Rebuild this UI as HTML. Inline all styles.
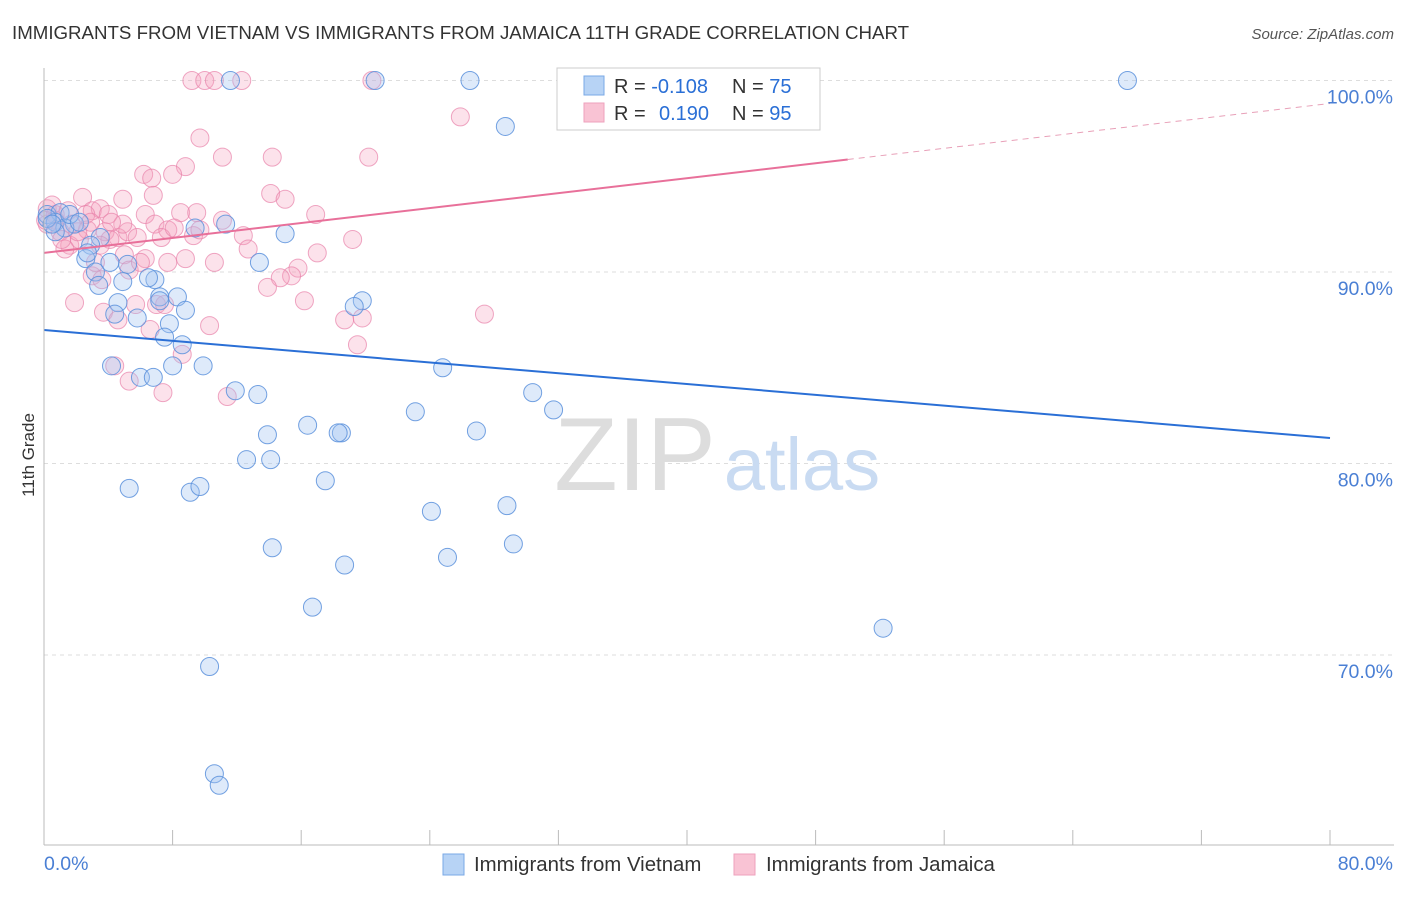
<!DOCTYPE html>
<html><head><meta charset="utf-8"><style>
body{margin:0;background:#fff;width:1406px;height:892px;overflow:hidden;font-family:"Liberation Sans",sans-serif}
svg text{font-family:"Liberation Sans",sans-serif}
</style></head><body>
<svg id="chart" width="1406" height="892">
<text x="12" y="39" font-size="18.7" fill="#333">IMMIGRANTS FROM VIETNAM VS IMMIGRANTS FROM JAMAICA 11TH GRADE CORRELATION CHART</text>
<text x="1394" y="39" font-size="15" fill="#555" font-style="italic" text-anchor="end">Source: ZipAtlas.com</text>
<text x="34" y="455" font-size="17" fill="#333" text-anchor="middle" transform="rotate(-90 34 455)">11th Grade</text>
<g id="grid"></g>
<g id="watermark">
<text x="635" y="490" font-size="104" fill="#ddd" font-family="Liberation Serif" text-anchor="middle">ZIP</text>
<text x="802" y="490" font-size="74" fill="#c9dbf2" text-anchor="middle">atlas</text></g>
<g id="pts"></g>
<g id="lines"></g>
<g id="axes"></g>
<g>
<rect x="557" y="68" width="263" height="62" fill="#fff" stroke="#ccc"/>
<rect x="584" y="76" width="20" height="19" fill="#b7d3f5" stroke="#7aa8e6"/>
<rect x="584" y="103" width="20" height="19" fill="#f9c3d4" stroke="#eea2bd"/>
<text x="614" y="93" font-size="20" fill="#333">R = <tspan fill="#2a6fd6">-0.108</tspan><tspan x="732">N = </tspan><tspan fill="#2a6fd6">75</tspan></text>
<text x="614" y="120" font-size="20" fill="#333">R = <tspan x="659" fill="#2a6fd6">0.190</tspan><tspan x="732">N = </tspan><tspan fill="#2a6fd6">95</tspan></text>
</g>
<g>
<rect x="443" y="854" width="21" height="21" fill="#b7d3f5" stroke="#7aa8e6"/>
<text x="474" y="871" font-size="20.4" fill="#333">Immigrants from Vietnam</text>
<rect x="734" y="854" width="21" height="21" fill="#f9c3d4" stroke="#eea2bd"/>
<text x="766" y="871" font-size="20.4" fill="#333">Immigrants from Jamaica</text>
</g>
</svg>
<script>
const yTicks=[100,90,80,70];
const yTickLabels=["100.0%","90.0%","80.0%","70.0%"];
const xTickLabels=["0.0%","80.0%"];
const blueX=[67.4,26.5,20.6,11.6,28.7,0.2,1.0,0.7,1.9,1.3,3.5,2.9,9.4,11.3,15.0,13.4,2.6,4.1,5.2,3.2,4.9,3.4,6.9,6.5,7.2,8.3,4.6,8.8,4.4,5.8,7.8,7.5,8.6,8.0,9.9,4.2,6.0,6.8,11.9,13.3,24.8,30.4,31.7,23.1,16.4,13.9,18.5,18.3,26.9,12.6,14.1,5.3,9.1,9.7,17.5,24.1,28.8,14.2,29.2,25.1,18.7,16.7,52.2,10.3,10.6,10.9,19.8,19.3,0.7,1.6,2.2,0.2,2.7,0.5,7.2];
const blueY=[100,100,100,100,97.6,93.0,93.1,92.6,92.5,92.3,91.8,91.4,92.3,92.5,92.0,90.5,90.7,90.5,90.4,90.0,89.5,89.3,89.6,89.7,88.7,88.7,88.4,88.0,87.8,87.6,87.3,86.6,86.2,85.1,85.1,85.1,84.5,84.5,83.8,83.6,85.0,83.7,82.8,82.7,82.0,81.5,81.6,81.6,81.7,80.2,80.2,78.7,78.5,78.8,79.1,77.5,77.8,75.6,75.8,75.1,74.7,72.5,71.4,69.4,63.8,63.2,88.5,88.2,92.1,93.0,92.6,92.8,91.0,92.5,88.5];
const pinkX=[9.2,10.0,10.6,12.3,20.4,43.0,25.9,9.7,11.1,14.2,20.2,8.8,6.2,8.0,6.7,2.4,4.9,6.8,14.1,15.0,0.2,3.0,3.5,4.0,6.3,8.5,9.5,11.1,16.9,0.7,1.7,1.0,2.7,3.8,4.6,5.2,6.9,7.7,9.3,12.4,7.3,19.2,1.6,2.2,1.3,4.1,5.8,5.0,6.3,7.7,8.8,10.6,12.7,17.0,15.8,15.4,14.7,3.0,3.6,5.3,13.9,16.2,1.9,7.0,3.7,4.6,6.6,10.3,19.8,18.7,27.4,19.5,8.6,4.4,5.3,7.4,11.4,0.2,0.7,1.1,2.1,3.2,6.0,4.9,9.7,8.1,0.5,0.1,2.6,4.2,2.9,1.5,3.5,5.7,7.5];
const pinkY=[100,100,100,100,100,100,98.1,97.0,96.0,96.0,96.0,95.5,95.1,95.1,94.9,93.9,93.8,94.0,94.1,93.8,93.3,93.2,93.3,93.0,93.0,93.1,93.1,92.7,93.0,92.7,92.5,92.1,92.2,92.1,91.8,92.1,92.5,92.2,91.9,91.9,91.8,91.7,91.4,91.7,91.2,91.7,91.8,90.9,90.7,90.5,90.7,90.5,91.2,91.0,90.2,89.8,89.7,89.8,89.6,90.1,89.2,88.5,88.4,88.3,87.9,87.5,87.0,87.2,87.6,87.5,87.8,86.2,85.7,85.1,84.3,83.7,83.5,92.5,93.0,91.7,92.1,90.5,90.5,92.5,92.2,92.3,93.5,92.7,93.0,92.6,92.6,93.2,91.4,88.3,88.3];
const blueTrend=[86.97,81.33];
const pinkTrend=[91.0,98.8];
const pinkSolidEnd=50;
const NS="http://www.w3.org/2000/svg";
const X=v=>44+v/80*1286;
const Y=v=>80.5+(100-v)*19.15;
function mk(tag,attrs,parent){const e=document.createElementNS(NS,tag);for(const k in attrs)e.setAttribute(k,attrs[k]);parent.appendChild(e);return e;}
const grid=document.getElementById('grid'),axes=document.getElementById('axes');
yTicks.forEach((t,i)=>{
 const l=mk('line',{x1:44,x2:1394,y1:Y(t),y2:Y(t),stroke:'#ddd','stroke-dasharray':'4,4'},grid);
 
 
 const tx=mk('text',{x:1393,y:Y(t)+23,'font-size':19.5,fill:'#4a7fd4','text-anchor':'end'},axes);
 tx.textContent=yTickLabels[i];
 
 
});
const al=mk('line',{x1:44,x2:44,y1:68,y2:845,stroke:'#bbb'},axes);


const bl=mk('line',{x1:44,x2:1394,y1:845,y2:845,stroke:'#bbb'},axes);


for(let i=0;i<=10;i++){const t=mk('line',{x1:X(i*8),x2:X(i*8),y1:830,y2:845,stroke:'#bbb'},axes);
 
 }
[[0,'start',44],[80,'end',1393]].forEach((d,i)=>{const t=mk('text',{x:d[2],y:870,'font-size':19.5,fill:'#4a7fd4','text-anchor':d[1]},axes);t.textContent=xTickLabels[i];
 
 });
const pts=document.getElementById('pts');
pinkX.forEach((x,i)=>{const c=mk('circle',{cx:X(x),cy:Y(pinkY[i]),r:9,fill:'rgba(244,160,190,0.3)',stroke:'rgba(232,130,170,0.7)','stroke-width':1},pts);
 
 });
blueX.forEach((x,i)=>{const c=mk('circle',{cx:X(x),cy:Y(blueY[i]),r:9,fill:'rgba(160,195,240,0.35)',stroke:'rgba(90,145,220,0.85)','stroke-width':1},pts);
 
 });
const lines=document.getElementById('lines');
const b=mk('line',{x1:X(0),y1:Y(blueTrend[0]),x2:X(80),y2:Y(blueTrend[1]),stroke:'#2a6fd6','stroke-width':2},lines);


const pv=x=>pinkTrend[0]+(pinkTrend[1]-pinkTrend[0])*x/80;
const p=mk('line',{x1:X(0),y1:Y(pv(0)),x2:X(pinkSolidEnd),y2:Y(pv(pinkSolidEnd)),stroke:'#e8709a','stroke-width':2},lines);


const pd=mk('line',{x1:X(pinkSolidEnd),y1:Y(pv(pinkSolidEnd)),x2:X(80),y2:Y(pv(80)),stroke:'#e8a0b8','stroke-width':1,'stroke-dasharray':'6,5'},lines);


</script>
</body></html>
